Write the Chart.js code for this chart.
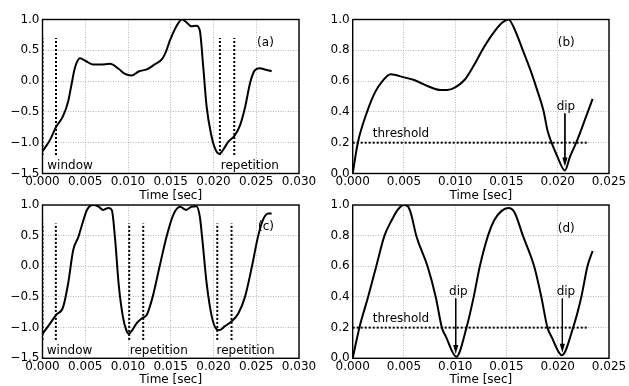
<!DOCTYPE html>
<html>
<head>
<meta charset="utf-8">
<script src="https://cdn.jsdelivr.net/npm/chart.js@4"></script>
<style>
html, body { margin: 0; padding: 0; background: #fff; }
#wrap { position: relative; width: 629px; height: 386px; }
canvas { position: absolute; left: 0; top: 0; }
</style>
</head>
<body>
<div id="wrap">
  <canvas id="ca" width="629" height="386"></canvas>
  <canvas id="cb" width="629" height="386"></canvas>
  <canvas id="cc" width="629" height="386"></canvas>
  <canvas id="cd" width="629" height="386"></canvas>
</div>
<script>
// (a) waveform with window and one repetition
const tA = [0, 0.0009, 0.0016, 0.0024, 0.0030, 0.0034, 0.0038, 0.0044, 0.0050, 0.0059, 0.0068, 0.0079, 0.0089, 0.0096,
            0.0104, 0.0113, 0.0122, 0.0131, 0.0140, 0.0145, 0.0149, 0.0157, 0.0163, 0.0168, 0.0174, 0.0180, 0.0184,
            0.0188, 0.0192, 0.0197, 0.0202, 0.0207, 0.0212, 0.0217, 0.0225, 0.0231, 0.0237, 0.0243, 0.0248, 0.0254,
            0.0262, 0.0268];
const vA = [-1.14, -0.95, -0.74, -0.57, -0.33, -0.05, 0.22, 0.37, 0.33, 0.27, 0.27, 0.28, 0.20, 0.12,
            0.09, 0.16, 0.19, 0.27, 0.36, 0.50, 0.66, 0.90, 1.0, 0.96, 0.89, 0.90, 0.82,
            0.23, -0.42, -0.85, -1.10, -1.18, -1.10, -0.99, -0.88, -0.72, -0.42, -0.02, 0.17, 0.21,
            0.18, 0.16];
const winA = [0, 0.00158, 0.02075, 0.02243];

// (b) similarity curve
const tB = [0, 0.0005, 0.0014, 0.0022, 0.0029, 0.0037, 0.0050, 0.0060, 0.0073, 0.0086, 0.0092, 0.0100, 0.0109,
            0.0118, 0.0128, 0.0138, 0.0146, 0.0152, 0.0157, 0.0166, 0.0174, 0.0180, 0.0186, 0.0190, 0.0194,
            0.0199, 0.0207, 0.0212, 0.0218, 0.0226, 0.0234];
const vB = [0.0, 0.2, 0.4, 0.53, 0.6, 0.645, 0.624, 0.607, 0.568, 0.542, 0.542, 0.56, 0.607,
            0.70, 0.82, 0.92, 0.98, 1.0, 0.95, 0.80, 0.66, 0.54, 0.41, 0.28, 0.2,
            0.12, 0.02, 0.11, 0.2, 0.34, 0.485];
const dipB = [0.0207];
const tipB = [0.045];

// (c) waveform with window and two repetitions
const tC = [0, 0.0009, 0.0016, 0.0024, 0.0030, 0.0036, 0.0042, 0.0048, 0.0052, 0.0059, 0.0065, 0.0071, 0.0077,
            0.0081, 0.0085, 0.0089, 0.0094, 0.0098, 0.0101, 0.0105, 0.0110, 0.0116, 0.0122, 0.0129, 0.0137,
            0.0145, 0.0153, 0.0161, 0.0168, 0.0174, 0.0180, 0.0184, 0.0187, 0.0192, 0.0198, 0.0204, 0.0207,
            0.0213, 0.0221, 0.0229, 0.0237, 0.0245, 0.0252, 0.0258, 0.0264, 0.0268];
const vC = [-1.10, -0.93, -0.79, -0.67, -0.28, 0.27, 0.48, 0.76, 0.92, 1.0, 0.98, 0.92, 0.95,
            0.92, 0.43, -0.28, -0.82, -1.04, -1.10, -1.04, -0.93, -0.85, -0.79, -0.49, 0.0,
            0.48, 0.84, 0.97, 0.92, 0.97, 0.98, 0.81, 0.43, -0.28, -0.82, -1.03, -1.04,
            -0.98, -0.90, -0.77, -0.49, 0.0, 0.48, 0.76, 0.86, 0.86];
const winC = [0, 0.00156, 0.01014, 0.01178, 0.02044, 0.02211];

// (d) similarity curve
const tD = [0, 0.00065, 0.0015, 0.0023, 0.0031, 0.0038, 0.0044, 0.0050, 0.0054, 0.0057, 0.0062, 0.0073, 0.0081,
            0.0087, 0.0091, 0.0101, 0.0111, 0.0118, 0.0124, 0.0132, 0.0138, 0.0145, 0.0152, 0.0158, 0.0166,
            0.0177, 0.0184, 0.0190, 0.0194, 0.0204, 0.0215, 0.0223, 0.0229, 0.0234];
const vD = [0, 0.2, 0.4, 0.6, 0.8, 0.9, 0.97, 1.0, 0.99, 0.94, 0.8, 0.6, 0.4,
            0.2, 0.14, 0.01, 0.2, 0.4, 0.6, 0.8, 0.9, 0.96, 0.98, 0.95, 0.8,
            0.6, 0.4, 0.2, 0.14, 0.02, 0.2, 0.4, 0.6, 0.70];
const dipD = [0.01005, 0.02045];
const tipD = [0.028, 0.037];

// shared marks
const winSpan = [-1.2, 0.7];
const threshold = 0.2;
const thresholdEnd = 0.0229;
const arrowTop = 0.39;

// text labels
const textA = [['window', 0.00056, -1.42], ['repetition', 0.02085, -1.42], ['(a)', 0.0251, 0.575]];
const textB = [['threshold', 0.00195, 0.239], ['(b)', 0.02, 0.827], ['dip', 0.0208, 0.415, 'center']];
const textC = [['window', 0.0005, -1.43], ['repetition', 0.0102, -1.43], ['repetition', 0.02035, -1.43], ['(c)', 0.0252, 0.60]];
const textD = [['threshold', 0.00195, 0.239], ['(d)', 0.02, 0.826], ['dip', 0.0103, 0.415, 'center'], ['dip', 0.0208, 0.415, 'center']];

Chart.defaults.font.family = '"DejaVu Sans", sans-serif';
Chart.defaults.font.size = 12;
Chart.defaults.color = '#000';

const pts = (t, v) => t.map((x, i) => ({ x: x, y: v[i] }));
const minus = s => s.replace('-', '\u2212');

// texts, arrow heads and frame
const annot = {
  id: 'annot',
  afterDatasetsDraw(chart) {
    const o = chart.options.plugins.annot;
    const x = chart.scales.x, y = chart.scales.y, ctx = chart.ctx;
    ctx.save();
    ctx.fillStyle = '#000';
    (o.heads || []).forEach(h => {
      const px = x.getPixelForValue(h[0]), py = y.getPixelForValue(h[1]);
      ctx.beginPath();
      ctx.moveTo(px, py);
      ctx.lineTo(px - 2.6, py - 9);
      ctx.lineTo(px + 2.6, py - 9);
      ctx.closePath();
      ctx.fill();
    });
    ctx.font = '12px "DejaVu Sans"';
    ctx.textBaseline = 'alphabetic';
    o.texts.forEach(s => {
      ctx.textAlign = s[3] || 'left';
      ctx.fillText(s[0], x.getPixelForValue(s[1]), y.getPixelForValue(s[2]));
    });
    const a = chart.chartArea;
    ctx.strokeStyle = '#000';
    ctx.lineWidth = 1.4;
    ctx.strokeRect(a.left, a.top, a.right - a.left, a.bottom - a.top);
    ctx.restore();
  }
};

function panel(id, o) {
  const ds = [];
  (o.wins || []).forEach(t => ds.push({
    data: [{ x: t, y: winSpan[0] }, { x: t, y: winSpan[1] }],
    borderColor: '#000', borderWidth: 2, borderDash: [2, 2], pointRadius: 0
  }));
  if (o.thr) ds.push({
    data: [{ x: 0, y: threshold }, { x: thresholdEnd, y: threshold }],
    borderColor: '#000', borderWidth: 2, borderDash: [2, 2], pointRadius: 0
  });
  const heads = [];
  (o.dips || []).forEach((t, i) => {
    ds.push({
      data: [{ x: t, y: arrowTop }, { x: t, y: o.tips[i] + 0.05 }],
      borderColor: '#000', borderWidth: 1, pointRadius: 0
    });
    heads.push([t, o.tips[i]]);
  });
  ds.push({
    data: pts(o.t, o.v), borderColor: '#000', borderWidth: 2, pointRadius: 0,
    cubicInterpolationMode: 'monotone'
  });

  new Chart(document.getElementById(id), {
    type: 'line',
    data: { datasets: ds },
    options: {
      responsive: false,
      animation: false,
      layout: { padding: o.pad },
      plugins: { legend: { display: false }, tooltip: { enabled: false }, annot: { texts: o.texts, heads: heads } },
      scales: {
        x: {
          type: 'linear', min: 0, max: o.xmax,
          grid: { color: '#9a9a9a', lineWidth: 0.7, drawTicks: false },
          border: { display: false, dash: [1, 1.5] },
          ticks: { stepSize: 0.005, autoSkip: false, maxRotation: 0, padding: 1, callback: v => v.toFixed(3) },
          title: { display: true, text: 'Time [sec]', padding: 0, font: { size: 12, lineHeight: 1 } },
          afterFit: s => { s.height = o.xh; }
        },
        y: {
          min: o.ymin, max: 1,
          grid: { color: '#9a9a9a', lineWidth: 0.7, drawTicks: false },
          border: { display: false, dash: [1, 1.5] },
          ticks: { stepSize: o.ystep, padding: 3, callback: v => minus(v.toFixed(1)) },
          afterFit: s => { s.width = 40; }
        }
      }
    },
    plugins: [annot]
  });
}

panel('ca', { t: tA, v: vA, wins: winA, texts: textA, xmax: 0.03, ymin: -1.5, ystep: 0.5, xh: 28,
  pad: { left: 2.5, top: 19.5, right: 330, bottom: 184.5 } });
panel('cb', { t: tB, v: vB, thr: true, dips: dipB, tips: tipB, texts: textB, xmax: 0.025, ymin: 0, ystep: 0.2, xh: 28,
  pad: { left: 312.7, top: 19.5, right: 20, bottom: 184.5 } });
panel('cc', { t: tC, v: vC, wins: winC, texts: textC, xmax: 0.03, ymin: -1.5, ystep: 0.5, xh: 27.7,
  pad: { left: 2.5, top: 205, right: 330, bottom: 0 } });
panel('cd', { t: tD, v: vD, thr: true, dips: dipD, tips: tipD, texts: textD, xmax: 0.025, ymin: 0, ystep: 0.2, xh: 27.7,
  pad: { left: 312.7, top: 205, right: 20, bottom: 0 } });
</script>
</body>
</html>
